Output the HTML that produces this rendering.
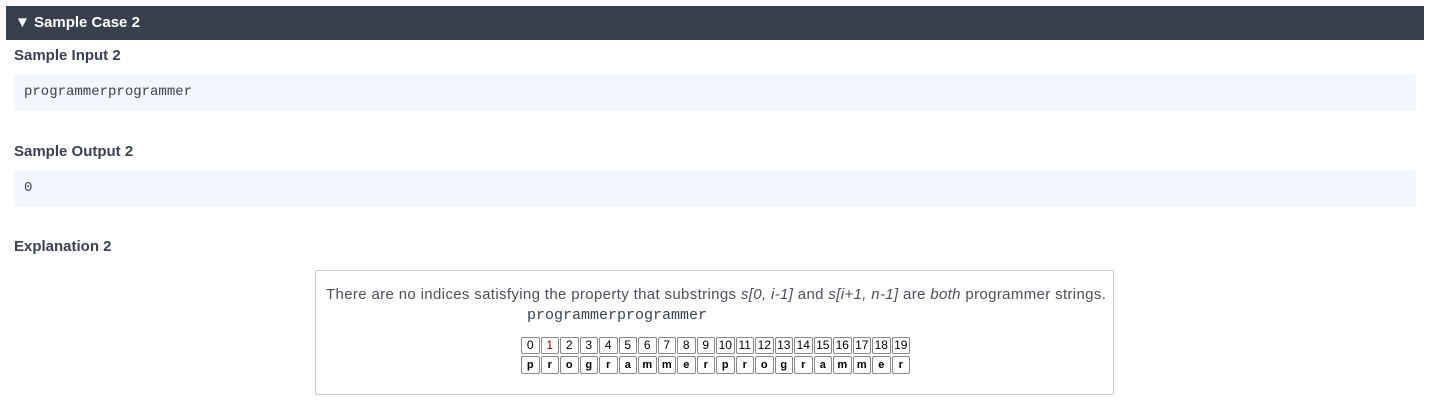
<!DOCTYPE html>
<html><head><style>
body{margin:0;width:1430px;height:409px;background:#fff;font-family:"Liberation Sans",sans-serif;position:relative;overflow:hidden}
.hdr{position:absolute;left:6px;top:6px;width:1418px;height:34px;background:#39404d;color:#fff;font-weight:bold;font-size:15px;line-height:34px;box-sizing:border-box;padding-left:9px}
.h{position:absolute;left:14px;font-weight:bold;font-size:15px;color:#39424e}
.code{position:absolute;left:14px;width:1402px;height:37px;background:#f3f7fd;font-family:"Liberation Mono",monospace;font-size:14px;color:#39424e;line-height:37px;box-sizing:border-box;padding-left:10px;border-radius:2px}
.box{position:absolute;left:315px;top:270px;width:799px;height:125px;border:1px solid #c8c8c8;box-sizing:border-box;border-radius:2px}
.txt{position:absolute;left:326px;top:286px;font-size:15px;letter-spacing:0.35px;color:#4a4f58;white-space:nowrap}
.mono{position:absolute;left:527px;top:307px;font-family:"Liberation Mono",monospace;font-size:15px;color:#39424e;letter-spacing:0px}
table{position:absolute;left:520px;top:335px;border-collapse:separate;border-spacing:1px 2px;font-size:12px}
td{width:16.5px;height:15px;padding:0;border:1px solid #888;border-radius:2px;text-align:center;line-height:15px;color:#000}
tr.b td{font-weight:bold;font-size:11px;height:16px}
</style></head><body>
<div class="hdr">▼ Sample Case 2</div>
<div class="h" style="top:47px">Sample Input 2</div>
<div class="code" style="top:74px">programmerprogrammer</div>
<div class="h" style="top:143px">Sample Output 2</div>
<div class="code" style="top:170px">0</div>
<div class="h" style="top:238px">Explanation 2</div>
<div class="box"></div>
<div class="txt">There are no indices satisfying the property that substrings <i>s[0, i-1]</i> and <i>s[i+1, n-1]</i> are <i>both</i> programmer strings.</div>
<div class="mono">programmerprogrammer</div>
<table>
<tr><td>0</td><td style="color:#a00">1</td><td>2</td><td>3</td><td>4</td><td>5</td><td>6</td><td>7</td><td>8</td><td>9</td><td>10</td><td>11</td><td>12</td><td>13</td><td>14</td><td>15</td><td>16</td><td>17</td><td>18</td><td>19</td></tr>
<tr class="b"><td>p</td><td>r</td><td>o</td><td>g</td><td>r</td><td>a</td><td>m</td><td>m</td><td>e</td><td>r</td><td>p</td><td>r</td><td>o</td><td>g</td><td>r</td><td>a</td><td>m</td><td>m</td><td>e</td><td>r</td></tr>
</table>
</body></html>
